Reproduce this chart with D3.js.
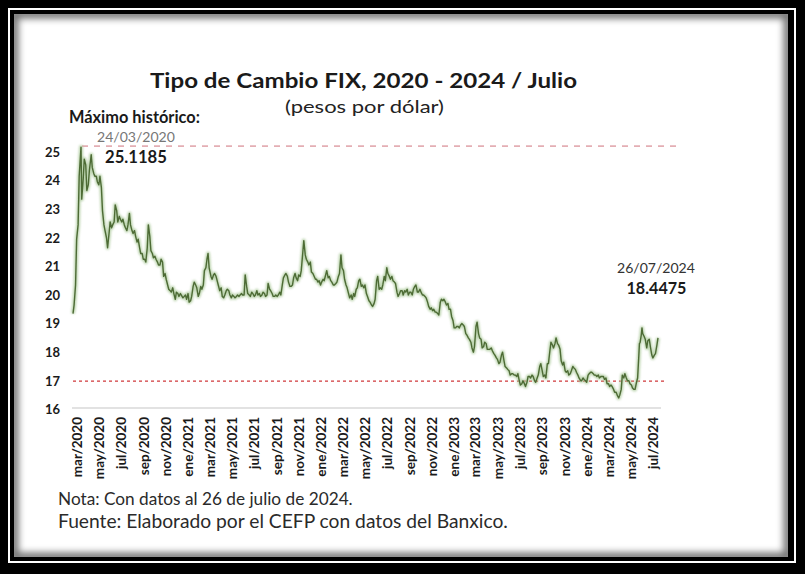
<!DOCTYPE html>
<html><head><meta charset="utf-8">
<script src="https://cdn.jsdelivr.net/npm/d3@7"></script>
<style>html,body{margin:0;padding:0;background:#000}svg{display:block}</style>
</head><body>
<svg id="c" width="805" height="574"></svg>
<script>
const dates = [
"2020-03-02","2020-03-05","2020-03-09","2020-03-12","2020-03-16","2020-03-19","2020-03-24","2020-03-26","2020-03-30","2020-04-02","2020-04-06","2020-04-09","2020-04-13","2020-04-16","2020-04-21","2020-04-24","2020-04-28","2020-05-01","2020-05-05","2020-05-08","2020-05-12","2020-05-15","2020-05-19","2020-05-22","2020-05-26","2020-05-29","2020-06-02","2020-06-05","2020-06-09","2020-06-12","2020-06-16","2020-06-19","2020-06-23","2020-06-26","2020-06-30","2020-07-03","2020-07-07","2020-07-10","2020-07-14","2020-07-17","2020-07-21","2020-07-24","2020-07-28","2020-07-31","2020-08-04","2020-08-07","2020-08-11","2020-08-14","2020-08-18","2020-08-21","2020-08-25","2020-08-28","2020-09-01","2020-09-04","2020-09-08","2020-09-11","2020-09-15","2020-09-18","2020-09-22","2020-09-25","2020-09-29","2020-10-02","2020-10-06","2020-10-09","2020-10-13","2020-10-16","2020-10-20","2020-10-23","2020-10-27","2020-10-30","2020-11-03","2020-11-06","2020-11-10","2020-11-13","2020-11-17","2020-11-20","2020-11-24","2020-11-27","2020-12-01","2020-12-04","2020-12-08","2020-12-11","2020-12-15","2020-12-18","2020-12-22","2020-12-29",
"2021-01-05","2021-01-08","2021-01-12","2021-01-15","2021-01-19","2021-01-22","2021-01-26","2021-01-29","2021-02-02","2021-02-05","2021-02-09","2021-02-12","2021-02-16","2021-02-19","2021-02-23","2021-02-26","2021-03-02","2021-03-05","2021-03-08","2021-03-11","2021-03-16","2021-03-19","2021-03-23","2021-03-26","2021-03-30","2021-04-05","2021-04-09","2021-04-13","2021-04-16","2021-04-20","2021-04-23","2021-04-27","2021-04-30","2021-05-04","2021-05-07","2021-05-11","2021-05-14","2021-05-18","2021-05-21","2021-05-25","2021-05-28","2021-06-01","2021-06-04","2021-06-08","2021-06-11","2021-06-15","2021-06-18","2021-06-22","2021-06-25","2021-06-29","2021-07-02","2021-07-06","2021-07-09","2021-07-13","2021-07-16","2021-07-20","2021-07-23","2021-07-27","2021-07-30","2021-08-03","2021-08-06","2021-08-10","2021-08-13","2021-08-17","2021-08-20","2021-08-24","2021-08-27","2021-08-31","2021-09-03","2021-09-07","2021-09-10","2021-09-14","2021-09-17","2021-09-21","2021-09-24","2021-09-28","2021-10-01","2021-10-05","2021-10-08","2021-10-12","2021-10-15","2021-10-19","2021-10-22","2021-10-26","2021-10-29","2021-11-02","2021-11-05","2021-11-09","2021-11-12","2021-11-16","2021-11-19","2021-11-23","2021-11-26","2021-11-30","2021-12-03","2021-12-07","2021-12-10","2021-12-14","2021-12-17","2021-12-21","2021-12-28","2021-12-31",
"2022-01-04","2022-01-07","2022-01-11","2022-01-14","2022-01-18","2022-01-21","2022-01-25","2022-01-28","2022-02-01","2022-02-04","2022-02-08","2022-02-11","2022-02-15","2022-02-18","2022-02-22","2022-02-25","2022-03-01","2022-03-04","2022-03-08","2022-03-11","2022-03-15","2022-03-18","2022-03-22","2022-03-25","2022-03-29","2022-04-01","2022-04-05","2022-04-08","2022-04-12","2022-04-15","2022-04-19","2022-04-22","2022-04-26","2022-04-29","2022-05-03","2022-05-06","2022-05-10","2022-05-13","2022-05-17","2022-05-20","2022-05-24","2022-05-27","2022-05-31","2022-06-03","2022-06-07","2022-06-10","2022-06-14","2022-06-17","2022-06-21","2022-06-24","2022-06-28","2022-07-01","2022-07-05","2022-07-08","2022-07-12","2022-07-15","2022-07-19","2022-07-22","2022-07-26","2022-07-29","2022-08-02","2022-08-05","2022-08-09","2022-08-12","2022-08-16","2022-08-19","2022-08-23","2022-08-26","2022-08-30","2022-09-02","2022-09-06","2022-09-09","2022-09-13","2022-09-16","2022-09-20","2022-09-23","2022-09-27","2022-09-30","2022-10-04","2022-10-07","2022-10-11","2022-10-14","2022-10-18","2022-10-21","2022-10-25","2022-10-28","2022-11-01","2022-11-04","2022-11-08","2022-11-11","2022-11-15","2022-11-18","2022-11-22","2022-11-25","2022-11-29","2022-12-02","2022-12-06","2022-12-09","2022-12-13","2022-12-16","2022-12-20","2022-12-23","2022-12-27","2022-12-30",
"2023-01-03","2023-01-06","2023-01-10","2023-01-13","2023-01-17","2023-01-20","2023-01-24","2023-01-27","2023-01-31","2023-02-03","2023-02-07","2023-02-10","2023-02-14","2023-02-17","2023-02-21","2023-02-24","2023-02-28","2023-03-03","2023-03-07","2023-03-10","2023-03-14","2023-03-17","2023-03-21","2023-03-24","2023-03-28","2023-03-31","2023-04-04","2023-04-07","2023-04-11","2023-04-14","2023-04-18","2023-04-21","2023-04-25","2023-04-28","2023-05-02","2023-05-05","2023-05-09","2023-05-12","2023-05-16","2023-05-19","2023-05-23","2023-05-26","2023-05-30","2023-06-02","2023-06-06","2023-06-09","2023-06-13","2023-06-16","2023-06-20","2023-06-23","2023-06-27","2023-06-30","2023-07-04","2023-07-07","2023-07-11","2023-07-14","2023-07-18","2023-07-21","2023-07-25","2023-07-28","2023-08-01","2023-08-04","2023-08-08","2023-08-11","2023-08-15","2023-08-18","2023-08-22","2023-08-25","2023-08-29","2023-09-01","2023-09-05","2023-09-08","2023-09-12","2023-09-15","2023-09-19","2023-09-22","2023-09-26","2023-09-29","2023-10-03","2023-10-06","2023-10-10","2023-10-13","2023-10-17","2023-10-20","2023-10-24","2023-10-27","2023-10-31","2023-11-03","2023-11-07","2023-11-10","2023-11-14","2023-11-17","2023-11-21","2023-11-24","2023-11-28","2023-12-01","2023-12-05","2023-12-08","2023-12-12","2023-12-15","2023-12-19","2023-12-22","2023-12-27","2023-12-29",
"2024-01-02","2024-01-05","2024-01-09","2024-01-12","2024-01-16","2024-01-19","2024-01-23","2024-01-26","2024-01-30","2024-02-02","2024-02-06","2024-02-09","2024-02-13","2024-02-16","2024-02-20","2024-02-23","2024-02-27","2024-03-01","2024-03-05","2024-03-08","2024-03-12","2024-03-15","2024-03-19","2024-03-22","2024-03-26","2024-03-29","2024-04-02","2024-04-05","2024-04-09","2024-04-12","2024-04-16","2024-04-19","2024-04-23","2024-04-26","2024-04-30","2024-05-03","2024-05-07","2024-05-10","2024-05-14","2024-05-17","2024-05-21","2024-05-24","2024-05-28","2024-05-31","2024-06-03","2024-06-05","2024-06-07","2024-06-10","2024-06-12","2024-06-14","2024-06-18","2024-06-21","2024-06-25","2024-06-28","2024-07-02","2024-07-05","2024-07-09","2024-07-12","2024-07-16","2024-07-19","2024-07-23","2024-07-26"
];
const values = [
19.30,19.60,20.30,21.90,22.40,24.10,25.1185,23.30,24.00,24.70,24.50,23.60,23.80,24.30,24.85,24.40,24.20,24.10,24.10,23.90,23.80,24.10,23.70,22.90,22.40,22.20,21.95,21.60,22.10,22.50,22.30,22.40,22.50,23.10,22.90,22.50,22.70,22.60,22.50,22.60,22.40,22.30,22.20,22.40,22.80,22.40,22.20,22.10,22.20,22.00,21.80,21.90,21.60,21.40,21.40,21.20,21.20,21.10,21.60,22.40,22.00,21.50,21.40,21.25,21.30,21.20,21.10,21.00,21.00,21.20,21.10,20.60,20.70,20.50,20.30,20.15,20.10,20.05,20.20,20.00,19.80,20.05,20.00,19.90,20.00,19.85,
19.95,19.80,20.00,19.70,19.75,19.90,20.25,20.40,20.30,20.20,19.90,20.00,20.25,20.15,20.30,20.80,20.90,21.20,21.40,20.90,20.60,20.50,20.65,20.70,20.60,20.30,20.10,20.20,19.90,19.85,19.95,20.10,20.15,20.10,19.95,19.85,19.95,19.90,19.85,19.90,19.95,19.90,19.95,20.00,19.95,19.95,20.65,20.25,20.00,19.95,19.90,20.05,20.00,19.90,19.95,20.10,19.95,20.00,19.90,19.95,20.05,20.00,19.90,19.95,20.35,20.15,20.10,20.00,19.90,19.90,19.95,19.90,19.95,20.05,19.95,20.30,20.55,20.65,20.70,20.60,20.40,20.25,20.25,20.30,20.55,20.70,20.55,20.45,20.65,20.60,20.80,21.40,21.85,21.35,21.20,21.10,21.00,21.10,20.75,20.70,20.50,20.50,
20.40,20.45,20.30,20.40,20.50,20.45,20.65,20.80,20.55,20.60,20.45,20.40,20.30,20.30,20.35,20.40,20.60,20.70,21.35,20.90,20.80,20.50,20.30,20.20,20.00,19.85,19.95,19.80,20.00,19.90,20.15,20.20,20.45,20.50,20.25,20.30,20.20,20.30,20.00,19.90,19.75,19.70,19.60,19.55,19.65,19.80,20.45,20.60,20.15,20.20,20.15,20.30,20.60,20.45,20.90,20.70,20.60,20.50,20.60,20.45,20.40,20.35,20.05,19.90,20.00,20.10,20.10,19.95,20.10,20.05,20.15,19.95,20.05,20.05,19.95,20.15,20.25,20.30,20.05,20.05,20.15,20.05,19.95,19.95,19.90,19.85,19.70,19.55,19.45,19.50,19.40,19.45,19.35,19.35,19.30,19.25,19.70,19.80,19.75,19.80,19.70,19.60,19.65,19.45,
19.45,19.20,19.05,18.80,18.80,18.85,18.85,18.80,18.90,18.95,18.90,18.85,18.60,18.55,18.45,18.40,18.30,18.10,17.95,18.15,18.85,19.00,18.60,18.45,18.40,18.10,18.15,18.30,18.25,18.05,18.05,18.05,18.10,18.00,17.90,17.85,17.75,17.70,17.55,17.60,17.85,17.95,17.65,17.45,17.40,17.35,17.30,17.15,17.20,17.20,17.15,17.15,17.10,17.20,16.95,16.80,16.85,16.95,16.85,16.75,16.90,17.10,17.10,17.05,17.15,17.10,16.95,16.90,17.05,17.15,17.45,17.55,17.30,17.10,17.15,17.05,17.55,17.55,18.00,18.30,18.20,18.10,18.25,18.45,18.25,18.20,18.05,17.65,17.50,17.60,17.30,17.25,17.30,17.15,17.20,17.30,17.45,17.40,17.35,17.25,17.15,17.05,16.95,16.95,
17.05,17.00,16.95,16.90,17.15,17.20,17.25,17.25,17.20,17.15,17.15,17.10,17.15,17.05,17.10,17.10,17.10,17.00,17.05,16.85,16.85,16.75,16.80,16.75,16.65,16.55,16.55,16.45,16.35,16.45,16.65,17.15,17.05,17.20,17.05,16.95,16.95,16.85,16.80,16.70,16.65,16.65,16.90,17.05,17.75,18.25,18.30,18.55,18.80,18.60,18.50,18.40,18.10,18.35,18.40,18.15,17.85,17.75,17.85,17.90,18.20,18.4475
];
const yTicks = [16,17,18,19,20,21,22,23,24,25];
const xTickLabels = ["mar/2020","may/2020","jul/2020","sep/2020","nov/2020","ene/2021","mar/2021","may/2021","jul/2021","sep/2021","nov/2021","ene/2022","mar/2022","may/2022","jul/2022","sep/2022","nov/2022","ene/2023","mar/2023","may/2023","jul/2023","sep/2023","nov/2023","ene/2024","mar/2024","may/2024","jul/2024"];
const maxValue = 25.1185, maxDateLabel = "24/03/2020";
const lastValue = 18.4475, lastDateLabel = "26/07/2024";
const lowRefValue = 16.94;

const monthIdx = {ene:0,feb:1,mar:2,abr:3,may:4,jun:5,jul:6,ago:7,sep:8,oct:9,nov:10,dic:11};
const parse = d3.timeParse("%Y-%m-%d");
const data = dates.map((d,i)=>({date:parse(d), v:values[i]}));

const svg = d3.select("#c");
const FONT = "Lato, 'Open Sans', sans-serif";

// frame
svg.append("rect").attr("width",805).attr("height",574).attr("fill","#000");
svg.append("rect").attr("x",9).attr("y",9).attr("width",786).attr("height",553)
  .attr("fill","none").attr("stroke","#fff").attr("stroke-width",2);
const defs = svg.append("defs");
defs.append("clipPath").attr("id","inner").append("rect").attr("x",14).attr("y",14).attr("width",774).attr("height",543);
const blur = defs.append("filter").attr("id","blur").attr("x","-10%").attr("y","-10%").attr("width","120%").attr("height","120%");
blur.append("feGaussianBlur").attr("stdDeviation",3.5);
const glow = defs.append("filter").attr("id","glow").attr("x","-5%").attr("y","-5%").attr("width","110%").attr("height","110%");
glow.append("feGaussianBlur").attr("stdDeviation",1.2);
svg.append("rect").attr("x",14).attr("y",14).attr("width",774).attr("height",543).attr("fill","#fff");
svg.append("g").attr("clip-path","url(#inner)").append("rect")
  .attr("x",14).attr("y",14).attr("width",774).attr("height",543)
  .attr("fill","none").attr("stroke","#000").attr("stroke-width",9).attr("opacity",0.55).attr("filter","url(#blur)");

// scales
const x = d3.scaleTime().domain([data[0].date, data[data.length-1].date]).range([73, 658]);
const y = d3.scaleLinear().domain([16,25]).range([408,150.5]);

function fit(sel, w){
  const n = sel.node(); const fs = parseFloat(sel.attr("font-size"));
  const cur = n.getComputedTextLength(); if (cur>0) sel.attr("font-size", fs*w/cur);
  return sel;
}
function stretch(sel, w){
  sel.attr("textLength", w).attr("lengthAdjust","spacingAndGlyphs");
  return sel;
}

// axis baseline
svg.append("line").attr("x1",72).attr("x2",661).attr("y1",y(16)).attr("y2",y(16))
  .attr("stroke","#d9d9d9").attr("stroke-width",1.3);

// y labels
const yAxis = d3.axisLeft(y).tickValues(yTicks).tickSize(0).tickPadding(0).tickFormat(d3.format("d"));
const gy = svg.append("g").attr("transform","translate(60,1.5)").call(yAxis);
gy.select(".domain").remove();
gy.selectAll("text").attr("font-family",FONT).attr("font-weight","bold").attr("font-size",13).attr("fill","#1a1a1a");

// x labels
const tickDates = xTickLabels.map(s=>{const [m,yy]=s.split("/"); return new Date(+yy, monthIdx[m], 1);});
const xAxis = d3.axisBottom(x).tickValues(tickDates).tickSize(0).tickFormat((d,i)=>xTickLabels[i]);
const gx = svg.append("g").attr("transform",`translate(0,${y(16)})`).call(xAxis);
gx.select(".domain").remove();
gx.selectAll("text").attr("font-family",FONT).attr("font-weight","bold").attr("font-size",13.5).attr("fill","#1a1a1a")
  .attr("text-anchor","end").attr("dy","0.35em").attr("y",0)
  .attr("transform","translate(4,9) rotate(-90)").attr("x",0);

// reference lines
svg.append("line").attr("x1",x(data[0].date)).attr("x2",664).attr("y1",y(lowRefValue)).attr("y2",y(lowRefValue))
  .attr("stroke","#d0393b").attr("stroke-width",1.3).attr("stroke-dasharray","3,3");
svg.append("line").attr("x1",82).attr("x2",676).attr("y1",y(maxValue)-1).attr("y2",y(maxValue)-1)
  .attr("stroke","#e4aeb4").attr("stroke-width",1.6).attr("stroke-dasharray","6,6");

// series
const line = d3.line().x(d=>x(d.date)).y(d=>y(d.v));
svg.append("path").datum(data).attr("d",line).attr("fill","none").attr("stroke","#a8c796")
  .attr("stroke-width",4).attr("opacity",0.75).attr("filter","url(#glow)").attr("stroke-linejoin","round");
svg.append("path").datum(data).attr("d",line).attr("fill","none").attr("stroke","#4d6b35")
  .attr("stroke-width",1.4).attr("stroke-linejoin","round");

// texts
const t = (txt, xx, yy, fs, opts={}) => svg.append("text").text(txt).attr("x",xx).attr("y",yy)
  .attr("font-family",FONT).attr("font-size",fs).attr("font-weight",opts.bold?"bold":"normal")
  .attr("fill",opts.fill||"#1a1a1a").attr("text-anchor",opts.anchor||"start");

stretch(t("Tipo de Cambio FIX, 2020 - 2024 / Julio", 363.5, 87.5, 21.5, {bold:true, anchor:"middle"}), 427);
stretch(t("(pesos por dólar)", 364.5, 113, 16.5, {anchor:"middle", fill:"#222"}), 159);
fit(t("Máximo histórico:", 69, 122.5, 14, {bold:true}), 131);
fit(t(maxDateLabel, 97, 141.5, 14, {fill:"#777"}), 78);
fit(t(d3.format(".4f")(maxValue), 105, 163, 16, {bold:true}), 62);
fit(t(lastDateLabel, 617, 273, 14, {fill:"#333"}), 78);
fit(t(d3.format(".4f")(lastValue), 626.5, 293.5, 16, {bold:true}), 60);
fit(t("Nota: Con datos al 26 de julio de 2024.", 58, 505, 14, {fill:"#2a2a2a"}), 295);
fit(t("Fuente: Elaborado por el CEFP con datos del Banxico.", 58, 528, 16, {fill:"#2a2a2a"}), 450);
</script>
</body></html>
